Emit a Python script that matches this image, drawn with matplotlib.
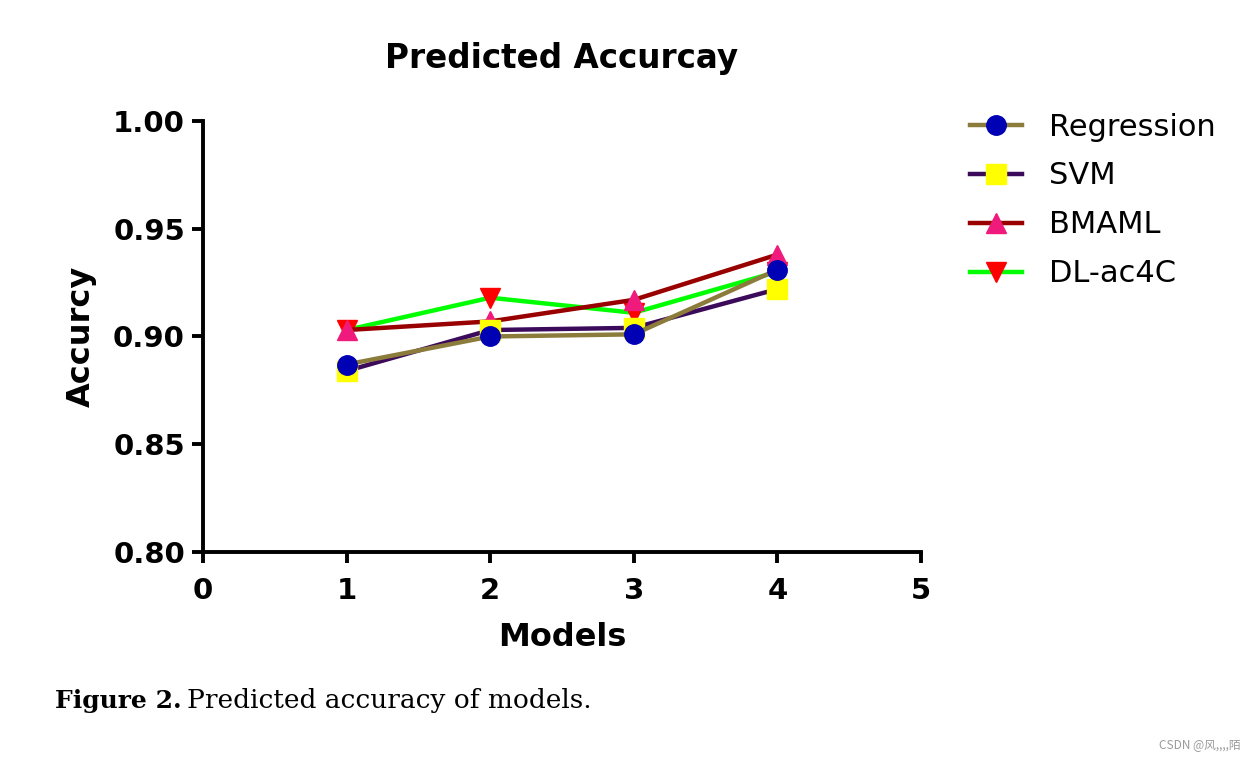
import matplotlib
matplotlib.use("Agg")
import matplotlib.pyplot as plt

models = [1, 2, 3, 4]
regression = [0.887, 0.900, 0.901, 0.931]
svm = [0.884, 0.903, 0.904, 0.922]
bmaml = [0.903, 0.907, 0.917, 0.938]
dl_ac4c = [0.903, 0.918, 0.911, 0.930]

x_ticks = [0, 1, 2, 3, 4, 5]
y_ticks = [0.80, 0.85, 0.90, 0.95, 1.00]

plt.rcParams["font.family"] = ["DejaVu Sans"]

fig = plt.figure(figsize=(12.56, 7.6), dpi=100)
ax = fig.add_axes([0.1616, 0.2737, 0.5717, 0.5671])

series = [
    ("DL-ac4C", dl_ac4c, "#00ff00", "v", "#ff0000", 3),
    ("BMAML", bmaml, "#990000", "^", "#f01a7c", 4),
    ("SVM", svm, "#3c0a5a", "s", "#ffff00", 5),
    ("Regression", regression, "#8c7c3c", "o", "#0000b4", 6),
]
handles = {}
for name, vals, lc, mk, mc, z in series:
    h, = ax.plot(models, vals, color=lc, lw=3.2, marker=mk, markersize=14,
                 markerfacecolor=mc, markeredgecolor=mc, label=name, zorder=z,
                 clip_on=False)
    handles[name] = h

ax.set_xlim(0, 5)
ax.set_ylim(0.80, 1.00)
ax.set_xticks(x_ticks)
ax.set_yticks(y_ticks)
ax.set_yticklabels([f"{v:.2f}" for v in y_ticks])
for s in ["top", "right"]:
    ax.spines[s].set_visible(False)
for s in ["left", "bottom"]:
    ax.spines[s].set_linewidth(2.8)
ax.tick_params(width=2.8, length=8, labelsize=21)
ax.tick_params(axis="x", pad=10)
ax.tick_params(axis="y", pad=5)
for lab in ax.get_xticklabels() + ax.get_yticklabels():
    lab.set_fontweight("bold")

ax.set_title("Predicted Accurcay", fontsize=23.5, fontweight="bold", pad=38)
ax.set_xlabel("Models", fontsize=23, fontweight="bold", labelpad=12)
ax.set_ylabel("Accurcy", fontsize=23, fontweight="bold", labelpad=12)

order = ["Regression", "SVM", "BMAML", "DL-ac4C"]
fig.legend([handles[n] for n in order], order, loc="upper left",
           bbox_to_anchor=(0.7504, 0.888), frameon=False, fontsize=22,
           handlelength=1.7, handletextpad=0.9, labelspacing=0.65)

fig.text(0.044, 0.068, "Figure 2.", fontsize=18, fontweight="bold",
         family="DejaVu Serif", va="baseline")
fig.text(0.149, 0.068, "Predicted accuracy of models.", fontsize=19,
         family="DejaVu Serif", va="baseline")
fig.text(0.988, 0.014, "CSDN @风,,,,陌", fontsize=8.5, color="#9a9a9a",
         ha="right", family=["Noto Sans CJK SC", "DejaVu Sans"])

fig.savefig("out.png", dpi=100)
